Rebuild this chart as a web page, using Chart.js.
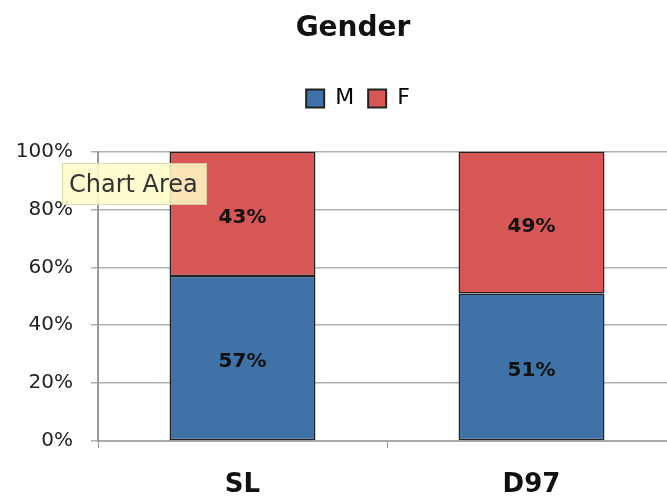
<!DOCTYPE html>
<html>
<head>
<meta charset="utf-8">
<script src="https://cdn.jsdelivr.net/npm/chart.js@4"></script>
<style>
  html, body { margin: 0; padding: 0; background: #fff; overflow: hidden; }
  #wrap { position: relative; width: 667px; height: 499px; overflow: hidden; }
  #c { position: absolute; left: 0; top: 0; }
  #tip { position: absolute; left: 62px; top: 163px; width: 145px; height: 42px; box-sizing: border-box;
         padding: 5px 0 0 6px; background: rgba(255,253,200,0.85); border: 1px solid rgba(200,195,150,0.6);
         font-family: "DejaVu Sans", sans-serif; font-size: 24px; color: #333; line-height: 30px; white-space: nowrap; }
</style>
</head>
<body>
<div id="wrap">
  <canvas id="c" width="700" height="499"></canvas>
  <div id="tip">Chart Area</div>
</div>
<script>
const categories = ["SL", "D97"];
const seriesM = [57, 51];
const seriesF = [43, 49];
const yTicks = [0, 20, 40, 60, 80, 100];
const titleText = "Gender";

const valueLabels = {
  id: 'valueLabels',
  afterDatasetsDraw(chart) {
    const ctx = chart.ctx;
    ctx.save();
    ctx.font = 'bold 20px "DejaVu Sans"';
    ctx.fillStyle = '#111';
    ctx.textAlign = 'center';
    ctx.textBaseline = 'middle';
    chart.data.datasets.forEach((ds, di) => {
      chart.getDatasetMeta(di).data.forEach((el, i) => {
        const y = (el.y + el.base) / 2 + 4;
        ctx.fillText(ds.data[i] + '%', el.x, y);
      });
    });
    ctx.restore();
  }
};

// centre title and legend on the same point as the reference
const headerShift = {
  id: 'headerShift',
  afterLayout(chart) {
    if (chart.titleBlock) { chart.titleBlock.left += 15; chart.titleBlock.right += 15; }
    if (chart.legend) { chart.legend.left += 20; chart.legend.right += 20; }
  }
};

new Chart(document.getElementById('c'), {
  type: 'bar',
  data: {
    labels: categories,
    datasets: [
      { label: 'M', data: seriesM, backgroundColor: '#3f72a6', borderColor: '#222', borderWidth: 1.5, borderSkipped: false },
      { label: 'F', data: seriesF, backgroundColor: '#d95656', borderColor: '#222', borderWidth: 1.5, borderSkipped: false }
    ]
  },
  options: {
    responsive: false,
    animation: false,
    devicePixelRatio: 1,
    layout: { padding: { left: 0, right: 24, top: 0, bottom: 0 } },
    datasets: { bar: { categoryPercentage: 1, barPercentage: 0.505 } },
    plugins: {
      title: { display: true, text: titleText, color: '#111', weight: 2000,
               font: { family: 'DejaVu Sans', size: 28, weight: 'bold' }, padding: { top: 12, bottom: 28 } },
      legend: { display: true, position: 'top', weight: 1800,
                labels: { color: '#222', font: { family: 'DejaVu Sans', size: 22 }, boxWidth: 18, boxHeight: 18, padding: 14,
                          generateLabels(chart) {
                            return chart.data.datasets.map((ds, i) => ({ text: ds.label, fillStyle: ds.backgroundColor,
                              strokeStyle: '#222', lineWidth: 2, datasetIndex: i, hidden: false }));
                          } } },
      subtitle: { display: true, text: '', weight: 1500, font: { size: 1, lineHeight: 1 }, padding: { top: 0, bottom: 31 } },
      tooltip: { enabled: false }
    },
    scales: {
      x: {
        stacked: true,
        offset: true,
        grid: { display: true, drawOnChartArea: false, drawTicks: true, tickLength: 7, color: '#999', offset: true },
        border: { display: true, color: '#aaa', width: 2 },
        ticks: { color: '#111', font: { family: 'DejaVu Sans', size: 26, weight: 'bold' }, padding: 22 },
        afterFit(scale) { scale.height = 58; }
      },
      y: {
        stacked: true,
        min: 0, max: 100,
        afterBuildTicks(scale) { scale.ticks = yTicks.map(v => ({ value: v })); },
        grid: { color: '#b0b0b0', lineWidth: 1.5, tickLength: 7, drawTicks: true },
        border: { display: true, color: '#999', width: 2 },
        ticks: { color: '#222', font: { family: 'DejaVu Sans', size: 20 }, padding: 18, callback: v => v + '%' },
        afterFit(scale) { scale.width = 98; }
      }
    }
  },
  plugins: [valueLabels, headerShift]
});
</script>
</body>
</html>
